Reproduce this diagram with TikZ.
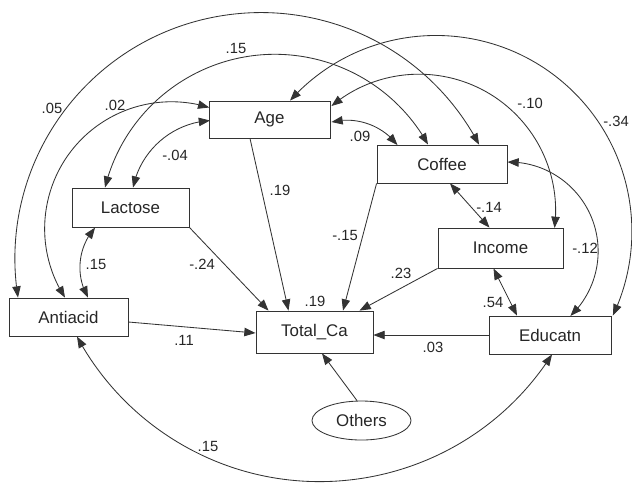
\documentclass[tikz,border=0pt]{standalone}
\usepackage{fontspec}
\setmainfont{Liberation Sans}
\usetikzlibrary{arrows.meta,calc,shapes.geometric,bending}
\begin{document}
\begin{tikzpicture}[x=0.025cm,y=-0.025cm,
  ln/.style={draw=black!80, line width=0.6pt},
  tip/.style={ln,-{Triangle[length=8pt,width=6pt]}},
  cov/.style={ln,{Triangle[length=8pt,width=6pt]}-{Triangle[length=8pt,width=6pt]}},
  var/.style={ln, rectangle, inner sep=0pt, font=\fontsize{12}{14}\selectfont, text=black!85},
  lbl/.style={font=\fontsize{10.5}{12}\selectfont, text=black!85, inner sep=0pt},
]
\useasboundingbox (0,0) rectangle (632,483);
\fill[white] (0,0) rectangle (632,483);

% variables
\node[var, minimum width=3.025cm, minimum height=0.925cm] (age) at (269.5,119.5) {Age};
\node[var, minimum width=3.25cm, minimum height=0.95cm] (coffee) at (442,164) {Coffee};
\node[var, minimum width=2.925cm, minimum height=0.975cm] (lactose) at (130.5,207.5) {Lactose};
\node[var, minimum width=2.975cm, minimum height=0.95cm] (antiacid) at (68.5,317) {Antiacid};
\node[var, minimum width=2.925cm, minimum height=1.05cm] (total) at (314.5,332) {Total\_Ca};
\node[var, minimum width=3.125cm, minimum height=1.0cm] (income) at (500.5,248) {Income};
\node[var, minimum width=3.05cm, minimum height=0.95cm] (educatn) at (550,335) {Educatn};
\node[var, ellipse, minimum width=2.475cm, minimum height=0.975cm] (others) at (361.5,420.5) {Others};

% regression paths
\draw[tip] ($(age.south)+(-19.5,0)$) -- ($(total.north)+(-26,0)$);
\draw[tip] (lactose.south east) -- ($(total.north)+(-46,0)$);
\draw[tip] ($(antiacid.east)+(0,5)$) -- ($(total.west)+(0,1)$);
\draw[tip] (coffee.south west) -- ($(total.north)+(28.5,0)$);
\draw[tip] (income.south west) -- ($(total.north)+(45,0)$);
\draw[tip] (educatn.west) -- ($(total.east)+(0,3)$);
\draw[tip] ($(others.north)+(-4.5,0)$) -- ($(total.south)+(7.5,0)$);

% covariances
\draw[cov] ($(age.north)+(20.5,0)$) arc[start angle=221.9, end angle=385.4, radius=196];
\draw[cov] ($(age.east)+(1,-13.5)$) arc[start angle=230.1, end angle=367.2, radius=136.6];
\draw[cov] ($(age.east)+(1,2.5)$) arc[start angle=256.3, end angle=322.1, radius=64.4];
\draw[cov] ($(lactose.north)+(2.5,0)$) arc[start angle=191.4, end angle=266.5, radius=83.8];
\draw[cov] ($(antiacid.north)+(-3.5,0)$) arc[start angle=147.1, end angle=287.3, radius=126.9];
\draw[cov] ($(antiacid.north)+(-50.5,0)$) arc[start angle=170.9, end angle=332.4, radius=246.1];
\draw[cov] ($(lactose.north)+(-25.5,0)$) arc[start angle=193.8, end angle=331, radius=175];
\draw[cov] ($(coffee.east)+(0,-2)$) arc[start angle=-90.9, end angle=46.4, radius=89.3];
\draw[cov] ($(educatn.south)+(2,0)$) arc[start angle=32.6, end angle=151.7, radius=275.7];
\draw[cov] ($(antiacid.north)+(19.5,0)$) arc[start angle=150, end angle=221.5, radius=60.2];
\draw[cov] ($(coffee.south)+(8,0)$) -- ($(income.north)+(-11,0)$);
\draw[cov] ($(income.south)+(-7,0)$) -- ($(educatn.north)+(-33,0)$);

% labels
\node[lbl] (l1) at (280,190) {.19};
\node[lbl] (l2) at (202,264) {-.24};
\node[lbl] (l3) at (184,340) {.11};
\node[lbl] (l4) at (345,235) {-.15};
\node[lbl] (l5) at (401,273) {.23};
\node[lbl] (l6) at (433,347) {.03};
\node[lbl] (l7) at (315,301) {.19};
\node[lbl] (l8) at (175,155) {-.04};
\node[lbl] (l9) at (115,105) {.02};
\node[lbl] (l10) at (52,108) {.05};
\node[lbl] (l11) at (236,48) {.15};
\node[lbl] (l12) at (360,136) {.09};
\node[lbl] (l13) at (530,103) {-.10};
\node[lbl] (l14) at (616,121) {-.34};
\node[lbl] (l15) at (489,207) {-.14};
\node[lbl] (l16) at (585,248) {-.12};
\node[lbl] (l17) at (493,302) {.54};
\node[lbl] (l18) at (96,264) {.15};
\node[lbl] (l19) at (208,446) {.15};
\end{tikzpicture}
\end{document}
